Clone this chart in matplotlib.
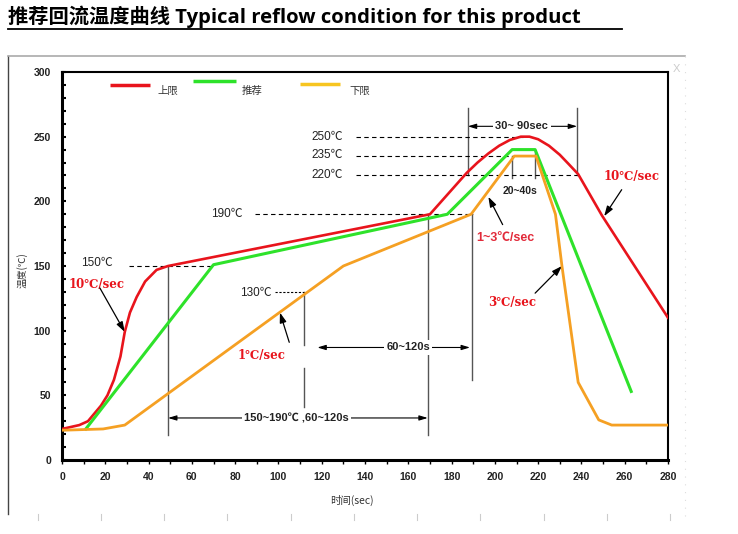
import numpy as np
import matplotlib
matplotlib.use("Agg")
import matplotlib.pyplot as plt
from matplotlib.lines import Line2D

plt.rcParams['font.family'] = ['Liberation Sans', 'Noto Sans CJK SC', 'DejaVu Sans']

# 上限 / 推荐 / 下限 曲线数据 (时间 sec, 温度 ℃)
red_t = [0, 8, 12, 15, 18, 21, 24, 27, 29, 31.4, 34.5, 38.4, 43.7, 49, 170,
         187, 192, 197, 202, 207, 212, 216, 220, 225, 230, 234, 238.5, 249.5, 280]
red_v = [24, 27, 30, 36, 42, 50, 62, 80, 99, 114, 126, 138, 147, 150, 190,
         222, 230, 237, 243, 247.5, 250, 250, 248, 243, 236, 229, 221, 189, 110]

green_t = [11, 70, 178, 208, 218.6, 263]
green_v = [24, 151, 190, 240, 240, 53]

orange_t = [0, 19, 29, 130, 189, 209, 219, 228, 231, 238.5, 248, 254, 280]
orange_v = [23, 24, 27, 150, 190, 235, 235, 190, 150, 60, 31, 27, 27]

x_ticks = list(range(0, 281, 20))
y_ticks = list(range(0, 301, 50))

c_red = '#e8141c'
c_green = '#2ee22a'
c_orange = '#f5a023'
c_legend_orange = '#f7c520'

fig = plt.figure(figsize=(7.38, 5.34), dpi=100)
ax = fig.add_axes([62 / 738, 74 / 534, 606 / 738, 388 / 534])

ax.plot(red_t, red_v, color=c_red, lw=1.9, zorder=5)
ax.plot(green_t, green_v, color=c_green, lw=2.2, zorder=5)
ax.plot(orange_t, orange_v, color=c_orange, lw=2.0, zorder=5)

ax.set_xlim(0, 280)
ax.set_ylim(0, 300)
ax.set_xticks(x_ticks)
ax.set_yticks(y_ticks)
ax.set_xticks(range(0, 281, 10), minor=True)
ax.set_yticks(range(0, 301, 10), minor=True)
ax.tick_params(axis='x', which='both', direction='out', length=3, width=1, pad=6,
               labelsize=7.5)
ax.tick_params(axis='y', which='both', direction='in', length=3, width=1.5, pad=8,
               labelsize=7.5)
for lab in ax.get_xticklabels() + ax.get_yticklabels():
    lab.set_fontweight('bold')
    lab.set_color('#222222')
for sp in ax.spines.values():
    sp.set_linewidth(1.5)
ax.spines['left'].set_linewidth(2.2)
ax.spines['bottom'].set_linewidth(2.2)

# 虚线参考线
dash = dict(color='black', lw=0.8, ls=(0, (4, 3)), zorder=3)
ax.plot([136, 213], [250, 250], **dash)
ax.plot([136, 208], [235, 235], **dash)
ax.plot([136, 238.5], [220, 220], **dash)
ax.plot([89, 190], [190, 190], **dash)
ax.plot([31, 70], [150, 150], **dash)
ax.plot([98.5, 112], [130, 130], color='black', lw=0.8, ls=(0, (2, 1.5)), zorder=3)

# 竖线
vl = dict(color='#555555', lw=1.0, zorder=2)
ax.plot([49, 49], [150, 19], **vl)
ax.plot([169, 169], [190, 19], **vl)
ax.plot([112, 112], [130, 89], **vl)
ax.plot([112, 112], [71, 41], **vl)
ax.plot([189.5, 189.5], [190, 62], **vl)
ax.plot([187.5, 187.5], [220, 272], **vl)
ax.plot([238, 238], [220, 272], **vl)
ax.plot([208, 208], [235, 218], **vl)
ax.plot([218.6, 218.6], [240, 218], **vl)

# 温度标注
tk = dict(fontsize=8.5, color='#222222', ha='center', va='center')
ax.text(122.5, 250, '250℃', **tk)
ax.text(122.5, 235.5, '235℃', **tk)
ax.text(122.5, 220.5, '220℃', **tk)
ax.text(76, 190, '190℃', **tk)
ax.text(16, 152, '150℃', **tk)
ax.text(89.5, 129, '130℃', **tk)
ax.text(211.5, 208, '20~40s', fontsize=7.5, fontweight='bold', color='#222222',
        ha='center', va='center')

# 双向箭头
def span(x0, x1, y, label, tx):
    ax.annotate('', xy=(x0, y), xytext=(x1, y),
                arrowprops=dict(arrowstyle='<|-|>,head_length=0.5,head_width=0.15',
                                color='black', lw=0.8, shrinkA=0, shrinkB=0), zorder=4)
    ax.text(tx, y, label, fontsize=8, fontweight='bold', color='#222222',
            ha='center', va='center', zorder=6,
            bbox=dict(boxstyle='square,pad=0.2', fc='white', ec='none'))

span(187.5, 238, 258, '30~ 90sec', 212.5)
span(118, 188.5, 87, '60~120s', 160)
span(49, 169, 32.5, '150~190℃ ,60~120s', 108.5)

# 速率标注 (红色)
rk = dict(fontsize=8.5, fontweight='bold', color=c_red, ha='center', va='center',
          family=['DejaVu Serif', 'Noto Sans CJK SC'])
arr = dict(arrowstyle='-|>,head_length=0.6,head_width=0.2', color='black', lw=0.9,
           shrinkA=0, shrinkB=0)
ax.text(16, 136, '10℃/sec', **rk)
ax.annotate('', xy=(29, 99), xytext=(17.5, 133), arrowprops=arr)
ax.text(92, 81, '1℃/sec', **rk)
ax.annotate('', xy=(100.7, 114), xytext=(105, 91), arrowprops=arr)
ax.text(205, 172, '1~3℃/sec', fontsize=9, fontweight='bold', color='#e22a3a',
        ha='center', va='center')
ax.annotate('', xy=(197, 203.5), xytext=(203.6, 182), arrowprops=arr)
ax.text(208, 122, '3℃/sec', **rk)
ax.annotate('', xy=(231, 150), xytext=(218.6, 129), arrowprops=arr)
ax.text(263, 219, '10℃/sec', **rk)
ax.annotate('', xy=(250.5, 188.5), xytext=(258.6, 209), arrowprops=arr)

# 图例 (手动)
legend_items = [(c_red, 0.079, 0.145, 0.967, '上限', 0.175),
                (c_green, 0.216, 0.287, 0.978, '推荐', 0.314),
                (c_legend_orange, 0.393, 0.459, 0.970, '下限', 0.492)]
for col, x0, x1, yy, lab, tx in legend_items:
    ax.plot([x0, x1], [yy, yy], color=col, lw=2.5, transform=ax.transAxes,
            solid_capstyle='butt')
    ax.text(tx, 0.950, lab, transform=ax.transAxes, fontsize=7.5, color='#333333',
            ha='center', va='center', family=['Noto Sans CJK SC'])

# 轴标题
fig.text(22 / 738, 1 - 270 / 534, '温度(℃)', rotation=90, fontsize=7, ha='center',
         va='center', family=['Noto Sans CJK SC'], color='#333333')
fig.text(352 / 738, 1 - 500 / 534, '时间(sec)', fontsize=7.5, ha='center',
         va='center', family=['Noto Sans CJK SC'], color='#333333')

# 标题
fig.text(8 / 738, 1 - 17 / 534, '推荐回流温度曲线 Typical reflow condition for this product',
         fontsize=14.6, fontweight='bold', ha='left', va='center',
         family=['Open Sans', 'Noto Sans CJK SC'], color='black')
fig.add_artist(Line2D([8 / 738, 622 / 738], [1 - 29 / 534, 1 - 29 / 534],
                      color='black', lw=1.3))

# 外框装饰
fig.add_artist(Line2D([8 / 738, 8 / 738], [1 - 56 / 534, 1 - 514 / 534],
                      color='#444444', lw=1.0))
fig.add_artist(Line2D([8 / 738, 685 / 738], [1 - 56 / 534, 1 - 56 / 534],
                      color='#aaaaaa', lw=1.2))
fig.add_artist(Line2D([685 / 738, 685 / 738], [1 - 56 / 534, 1 - 520 / 534],
                      color='#dddddd', lw=0.8, ls=(0, (1, 6))))
for px in np.linspace(37.6, 670, 11):
    fig.add_artist(Line2D([px / 738, px / 738], [1 - 514 / 534, 1 - 520 / 534],
                          color='#cccccc', lw=0.8))
fig.text(676 / 738, 1 - 69 / 534, 'X', fontsize=8, color='#cccccc', ha='center',
         va='center')

fig.savefig('out.png', dpi=100)
